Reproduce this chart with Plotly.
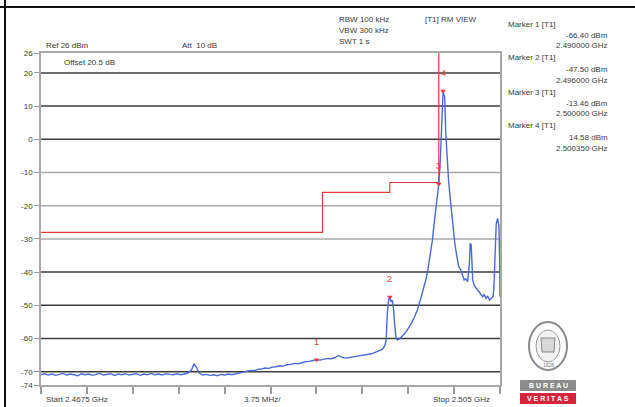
import plotly.graph_objects as go

# ---------------- data ----------------
trace_freq_ghz = [
    2.4675, 2.4678, 2.4681, 2.4684, 2.4687, 2.4690, 2.4693, 2.4696, 2.4699, 2.4702,
    2.4705, 2.4708, 2.4711, 2.4714, 2.4717, 2.4720, 2.4723, 2.4726, 2.4729, 2.4732,
    2.4735, 2.4738, 2.4741, 2.4744, 2.4747, 2.4750, 2.4753, 2.4756, 2.4759, 2.4762,
    2.4765, 2.4768, 2.4771, 2.4774, 2.4777, 2.4780, 2.4783, 2.4786, 2.4789, 2.4792,
    2.4795, 2.4798, 2.4800, 2.4802, 2.4804, 2.4807,
    2.4810, 2.4813, 2.4816, 2.4819, 2.4822, 2.4825, 2.4828, 2.4831, 2.4834, 2.4837,
    2.4840, 2.4843, 2.4846, 2.4849, 2.4852, 2.4855, 2.4858, 2.4861, 2.4864, 2.4867,
    2.4870, 2.4873, 2.4876, 2.4879, 2.4882, 2.4885, 2.4888, 2.4891, 2.4894, 2.4897,
    2.4900, 2.4903, 2.4906, 2.4909, 2.4912, 2.4915, 2.4918, 2.4921, 2.4924, 2.4927,
    2.4930, 2.4933, 2.4936, 2.4939, 2.4942, 2.4945, 2.4948, 2.4951, 2.4954, 2.4956,
    2.4957, 2.4958, 2.4959, 2.4960, 2.4961, 2.4962, 2.4963, 2.4964, 2.4965, 2.4966,
    2.4968, 2.4970, 2.4972, 2.49743, 2.4976, 2.49778, 2.4980, 2.49825, 2.49852, 2.4987,
    2.49893, 2.4991, 2.4992, 2.4994, 2.49948, 2.4996, 2.49975, 2.4999, 2.5000, 2.5001,
    2.50017, 2.50025, 2.5003, 2.50035, 2.5004, 2.50048, 2.50057, 2.50064, 2.50071, 2.5008,
    2.50092, 2.5010, 2.50112, 2.5012, 2.5013, 2.50139, 2.50153, 2.5016, 2.5017, 2.5018,
    2.5019, 2.5020, 2.50207, 2.5022, 2.50235, 2.5025, 2.50257, 2.50265, 2.5027, 2.50277,
    2.5029, 2.50304, 2.5032, 2.50331, 2.5034, 2.50359, 2.5037, 2.50386, 2.5040, 2.50414,
    2.5043, 2.50443, 2.5045, 2.50458, 2.50469, 2.5048, 2.50491, 2.50497, 2.5050,
]
trace_dbm = [
    -70.9, -70.6, -71.0, -70.7, -71.1, -70.8, -70.5, -71.0, -70.7, -70.9,
    -71.2, -70.6, -70.9, -70.7, -71.1, -70.8, -70.5, -71.0, -70.8, -70.6,
    -71.1, -70.7, -70.9, -70.6, -71.0, -70.8, -70.6, -71.1, -70.7, -70.9,
    -70.5, -70.9, -70.7, -71.0, -70.6, -70.8, -70.9, -70.6, -70.9, -70.7,
    -70.4, -69.4, -67.6, -68.6, -70.3, -71.0,
    -70.8, -71.1, -70.9, -71.2, -70.8, -71.0, -70.7, -70.9, -70.6, -70.4,
    -70.0, -69.8, -69.6, -69.7, -69.3, -69.2, -68.9, -69.0, -68.6, -68.5,
    -68.2, -68.3, -67.9, -67.8, -67.5, -67.6, -67.2, -67.0, -66.9, -66.6,
    -66.4, -66.5, -66.2, -66.0, -66.1, -65.8, -65.1, -65.7, -65.9, -65.7,
    -65.6, -65.4, -65.3, -65.1, -64.8, -64.6, -64.2, -63.8, -63.2, -62.0,
    -60.5, -52.0, -48.3, -47.5, -49.0, -48.4, -51.0, -56.0, -59.8, -60.4,
    -60.1, -59.3, -58.6, -57.4, -56.4, -55.3, -53.6, -51.4, -48.0, -45.8,
    -42.5, -39.5, -37.3, -32.5, -30.3, -26.0, -21.3, -16.5, -13.46, -8.0,
    -1.1, 7.0, 13.0, 14.58, 13.6, 12.8, 1.8, -3.5, -8.2, -12.5,
    -17.3, -20.5, -24.3, -27.5, -31.0, -33.3, -37.3, -38.0, -38.8, -39.4,
    -40.5, -41.6, -42.4, -42.0, -42.9, -37.5, -31.3, -31.8, -36.0, -42.4,
    -44.0, -44.9, -45.6, -45.9, -46.6, -47.4, -46.7, -47.9, -47.2, -48.4,
    -47.9, -47.4, -45.0, -38.4, -25.5, -23.8, -26.0, -36.0, -47.4,
]

limit_freq_ghz = [2.4675, 2.4905, 2.4905, 2.4960, 2.4960, 2.5000, 2.5000]
limit_dbm = [-28, -28, -16, -16, -13, -13, 26]

marker_ids = ["1", "2", "3", "4"]
marker_freq_ghz = [2.490000, 2.496000, 2.500000, 2.500350]
marker_dbm = [-66.40, -47.50, -13.46, 14.58]
marker_freq_text = ["2.490000 GHz", "2.496000 GHz", "2.500000 GHz", "2.500350 GHz"]
marker_level_text = ["-66.40 dBm", "-47.50 dBm", "-13.46 dBm", "14.58 dBm"]

y_tick_vals = [26, 20, 10, 0, -10, -20, -30, -40, -50, -60, -70, -74]
x_div_ghz = [2.4675, 2.47125, 2.4750, 2.47875, 2.4825, 2.48625,
             2.4900, 2.49375, 2.4975, 2.50125, 2.5050]
dark_grid_dbm = [20, 10, 0, -40, -50, -60, -70]
light_grid_dbm = [-10, -20, -30]

# ---------------- layout helpers ----------------
W, H = 635, 407
L, R, T, B = 41, 135, 53, 22
PW, PH = W - L - R, H - T - B
FONT = "Liberation Sans, Arial, sans-serif"
TXT = "#3a3a3a"


def px(x):
    return (x - L) / PW


def py(y):
    return (H - B - y) / PH


annotations = []


def label(text, x, y, anchor="left", size=8, color=TXT, bold=False):
    annotations.append(dict(
        text=("<b>%s</b>" % text) if bold else text,
        x=px(x), y=py(y), xref="paper", yref="paper",
        xanchor=anchor, yanchor="middle", showarrow=False,
        font=dict(family=FONT, size=size, color=color)))


fig = go.Figure()

fig.add_trace(go.Scatter(
    x=limit_freq_ghz, y=limit_dbm, mode="lines",
    line=dict(color="#e23b3b", width=1.2), hoverinfo="skip", cliponaxis=False))

fig.add_trace(go.Scatter(
    x=trace_freq_ghz, y=trace_dbm, mode="lines",
    line=dict(color="#4a6ad6", width=1.4), hoverinfo="skip"))

fig.add_trace(go.Scatter(
    x=marker_freq_ghz, y=marker_dbm, mode="markers",
    marker=dict(symbol="triangle-down", size=5, color="#e23b3b"),
    hoverinfo="skip"))

for mid, f, v in zip(marker_ids, marker_freq_ghz, marker_dbm):
    annotations.append(dict(
        text=mid, x=f, y=v, xref="x", yref="y", showarrow=False,
        yshift=18, xanchor="center", yanchor="middle",
        font=dict(family=FONT, size=9, color="#e23b3b")))

shapes = []
for v in dark_grid_dbm:
    shapes.append(dict(type="line", xref="paper", yref="y", x0=0, x1=1, y0=v, y1=v,
                       line=dict(color="#3c3c3c", width=1.5), layer="below"))
for v in light_grid_dbm:
    shapes.append(dict(type="line", xref="paper", yref="y", x0=0, x1=1, y0=v, y1=v,
                       line=dict(color="#a8a8a8", width=1.5), layer="below"))

# outer black frame
shapes.append(dict(type="line", xref="paper", yref="paper",
                   x0=px(0), x1=px(635), y0=py(7), y1=py(7),
                   line=dict(color="#111", width=2)))
shapes.append(dict(type="line", xref="paper", yref="paper",
                   x0=px(5), x1=px(5), y0=py(0), y1=py(407),
                   line=dict(color="#111", width=2)))

# header texts
label("Ref 26 dBm", 44, 46)
label("Att  10 dB", 180, 46)
label("Offset 20.5 dB", 62, 62)
label("RBW 100 kHz", 337, 19)
label("VBW 300 kHz", 337, 30)
label("SWT 1 s", 337, 41)
label("[T1] RM VIEW", 423, 19)

# marker table
for i in range(4):
    y0 = 24 + 34 * i
    label("Marker %d [T1]" % (i + 1), 506, y0)
    label(marker_level_text[i], 610, y0 + 11.5, anchor="right")
    label(marker_freq_text[i], 610, y0 + 22, anchor="right")

# bottom texts
label("Start 2.4675 GHz", 44, 400)
label("3.75 MHz/", 262, 400, anchor="center")
label("Stop 2.505 GHz", 492, 400, anchor="right")

# logo (Bureau Veritas style)
cx, cy = 548, 346
shapes.append(dict(type="circle", xref="paper", yref="paper",
                   x0=px(cx - 19), x1=px(cx + 19), y0=py(cy + 24), y1=py(cy - 24),
                   line=dict(color="#8a8a8a", width=2), fillcolor="white"))
shapes.append(dict(type="circle", xref="paper", yref="paper",
                   x0=px(cx - 12), x1=px(cx + 12), y0=py(cy + 16), y1=py(cy - 16),
                   line=dict(color="#9a9a9a", width=1), fillcolor="#f2f2f2"))
shapes.append(dict(type="path", xref="paper", yref="paper",
                   path="M %f %f L %f %f L %f %f L %f %f Z" % (
                       px(cx - 7), py(cy - 8), px(cx + 7), py(cy - 8),
                       px(cx + 6), py(cy + 6), px(cx - 6), py(cy + 6)),
                   line=dict(color="#8a8a8a", width=1), fillcolor="#d8d8d8"))
label("1828", cx, cy + 19, anchor="center", size=5, color="#777")
shapes.append(dict(type="rect", xref="paper", yref="paper",
                   x0=px(520), x1=px(576), y0=py(391), y1=py(380),
                   line=dict(width=0), fillcolor="#8c8c8c"))
shapes.append(dict(type="rect", xref="paper", yref="paper",
                   x0=px(520), x1=px(576), y0=py(404), y1=py(393),
                   line=dict(width=0), fillcolor="#d6243c"))
label("B U R E A U", cx, 385.5, anchor="center", size=7, color="white", bold=True)
label("V E R I T A S", cx, 398.5, anchor="center", size=7, color="white", bold=True)

fig.update_layout(
    width=W, height=H, margin=dict(l=L, r=R, t=T, b=B, pad=0),
    paper_bgcolor="white", plot_bgcolor="white", showlegend=False,
    shapes=shapes, annotations=annotations,
    xaxis=dict(range=[2.4675, 2.505], showgrid=False, zeroline=False,
               tickmode="array", tickvals=x_div_ghz, showticklabels=False,
               ticks="outside", ticklen=7, tickwidth=1.5, tickcolor="#9a9a9a",
               showline=True, linecolor="#a8a8a8", linewidth=1.5, mirror=True),
    yaxis=dict(range=[-74, 26], showgrid=False, zeroline=False,
               tickmode="array", tickvals=y_tick_vals,
               ticktext=[str(v) for v in y_tick_vals],
               ticks="outside", ticklen=5, tickwidth=1.2, tickcolor="#9a9a9a",
               tickfont=dict(family=FONT, size=8, color=TXT),
               showline=True, linecolor="#a8a8a8", linewidth=1.5, mirror=True),
)

fig.write_html(
    "out.html",
    config={"displayModeBar": False},
    post_script="document.body.style.margin='0';document.body.style.overflow='hidden';",
)
